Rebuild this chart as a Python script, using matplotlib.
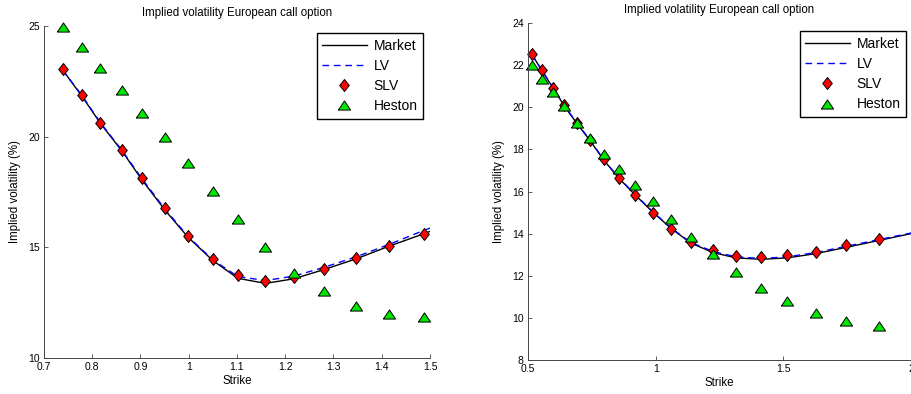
import matplotlib
matplotlib.use('Agg')
import matplotlib.pyplot as plt
from matplotlib.ticker import FuncFormatter

plt.rcParams['font.family'] = ['Liberation Sans', 'DejaVu Sans']

# short maturity
strike_l = [0.739, 0.778, 0.817, 0.861, 0.903, 0.950, 0.998, 1.050, 1.102, 1.159,
            1.218, 1.281, 1.347, 1.415, 1.488]
mkt_strike_l = strike_l + [1.5]
market_l = [23.0, 21.85, 20.6, 19.37, 18.05, 16.7, 15.47, 14.4, 13.6, 13.37,
            13.58, 14.0, 14.48, 15.05, 15.62, 15.72]
lv_l = [23.0, 21.88, 20.63, 19.4, 18.1, 16.75, 15.5, 14.43, 13.68, 13.5,
        13.7, 14.1, 14.57, 15.13, 15.77, 15.87]
slv_l = [23.06, 21.88, 20.63, 19.39, 18.11, 16.77, 15.53, 14.45, 13.77, 13.48,
         13.65, 14.03, 14.52, 15.05, 15.58]
heston_l = [24.97, 24.03, 23.09, 22.11, 21.05, 19.97, 18.79, 17.55, 16.30, 15.02,
            13.84, 13.02, 12.35, 12.01, 11.85]

# long maturity
strike_r = [0.516, 0.556, 0.599, 0.641, 0.692, 0.744, 0.796, 0.856, 0.920, 0.988,
            1.060, 1.138, 1.225, 1.314, 1.413, 1.516, 1.627, 1.747, 1.876]
mkt_strike_r = strike_r + [2.0]
market_r = [22.5, 21.7, 20.9, 20.08, 19.22, 18.4, 17.5, 16.63, 15.83, 15.03,
            14.25, 13.55, 13.1, 12.85, 12.78, 12.85, 13.05, 13.35, 13.68, 14.0]
lv_r = [22.5, 21.72, 20.92, 20.1, 19.25, 18.42, 17.52, 16.65, 15.85, 15.05,
        14.27, 13.58, 13.15, 12.9, 12.82, 12.9, 13.1, 13.4, 13.72, 14.03]
slv_r = [22.55, 21.75, 20.93, 20.11, 19.26, 18.43, 17.53, 16.66, 15.83, 15.0,
         14.21, 13.61, 13.22, 12.93, 12.87, 12.98, 13.14, 13.45, 13.75]
heston_r = [22.02, 21.36, 20.73, 20.05, 19.27, 18.55, 17.8, 17.08, 16.3, 15.54,
            14.69, 13.82, 13.03, 12.19, 11.4, 10.8, 10.21, 9.85, 9.61]

diamond = [(0, 1), (0.8, 0), (0, -1), (-0.8, 0), (0, 1)]
triangle = [(-1, -0.75), (1, -0.75), (0, 0.75), (-1, -0.75)]

fig = plt.figure(figsize=(9.11, 3.94), dpi=100)
ax1 = fig.add_axes([0.0483, 0.0914, 0.4237, 0.8426])
ax2 = fig.add_axes([0.5796, 0.0863, 0.4204, 0.8553])

fmt = FuncFormatter(lambda v, p: '%g' % round(v, 3))


def draw(ax, mk_x, mkt, lv, x, slv, hes, xlim, ylim, xticks, yticks, anchor):
    ax.plot(mk_x, mkt, color='black', lw=1.0, label='Market')
    ax.plot(mk_x, lv, color='#0000ff', lw=1.0, ls=(0, (4.8, 3.4)), label='LV')
    ax.plot(x, slv, ls='none', marker=diamond, ms=8.6, mfc='#ff0000',
            mec='black', mew=0.7, label='SLV', clip_on=False)
    ax.plot(x, hes, ls='none', marker=triangle, ms=8.8, mfc='#00e600',
            mec='black', mew=0.7, label='Heston', clip_on=False)
    ax.set_xlim(xlim)
    ax.set_ylim(ylim)
    ax.set_xticks(xticks)
    ax.set_yticks(yticks)
    ax.xaxis.set_major_formatter(fmt)
    ax.yaxis.set_major_formatter(fmt)
    for s in ['top', 'right']:
        ax.spines[s].set_visible(False)
    for s in ['left', 'bottom']:
        ax.spines[s].set_linewidth(0.7)
        ax.spines[s].set_color('#444444')
    ax.tick_params(direction='in', length=3, width=0.6, color='#444444',
                   labelsize=7.5, pad=3)
    ax.set_title('Implied volatility European call option', fontsize=8.3, pad=7)
    ax.set_xlabel('Strike', fontsize=8.3, labelpad=2)
    ax.set_ylabel('Implied volatility (%)', fontsize=8.3, labelpad=5)
    h, l = ax.get_legend_handles_labels()
    leg = ax.legend(h, l, loc='upper right', bbox_to_anchor=anchor,
                    borderaxespad=0, fontsize=10, numpoints=1, handlelength=3.2,
                    handletextpad=0.5, labelspacing=0.45, borderpad=0.4,
                    fancybox=False, framealpha=1, edgecolor='black')
    leg.get_frame().set_linewidth(1.0)


draw(ax1, mkt_strike_l, market_l, lv_l, strike_l, slv_l, heston_l,
     (0.7, 1.5), (10, 25), [0.7, 0.8, 0.9, 1.0, 1.1, 1.2, 1.3, 1.4, 1.5],
     [10, 15, 20, 25], (0.982, 0.979))
draw(ax2, mkt_strike_r, market_r, lv_r, strike_r, slv_r, heston_r,
     (0.5, 2.0), (8, 24), [0.5, 1.0, 1.5, 2.0],
     [8, 10, 12, 14, 16, 18, 20, 22, 24], (0.987, 0.976))

fig.savefig('out.png', dpi=100)
